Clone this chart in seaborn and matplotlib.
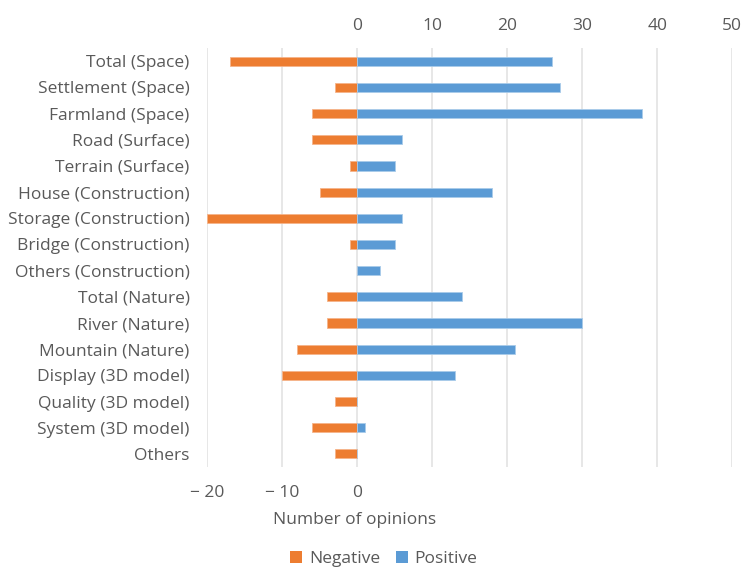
import matplotlib
matplotlib.use("Agg")
import matplotlib.pyplot as plt
import seaborn as sns
import pandas as pd
from matplotlib.patches import Patch

categories = [
    "Total (Space)", "Settlement (Space)", "Farmland (Space)", "Road (Surface)",
    "Terrain (Surface)", "House (Construction)", "Storage (Construction)",
    "Bridge (Construction)", "Others (Construction)", "Total (Nature)",
    "River (Nature)", "Mountain (Nature)", "Display (3D model)",
    "Quality (3D model)", "System (3D model)", "Others",
]
negative = [-17, -3, -6, -6, -1, -5, -20, -1, 0, -4, -4, -8, -10, -3, -6, -3]
positive = [26, 27, 38, 6, 5, 18, 6, 5, 3, 14, 30, 21, 13, 0, 1, 0]
top_ticks = [0, 10, 20, 30, 40, 50]
bottom_ticks = [-20, -10, 0]

ORANGE = "#ED7D31"
BLUE = "#5B9BD5"
TEXT = "#595959"
GRID = "#E0E0E0"
FS = 12.5

sns.set_theme(style="white")
plt.rcParams["font.family"] = ["Open Sans", "DejaVu Sans"]

df = pd.DataFrame({"category": categories, "Negative": negative, "Positive": positive})

fig = plt.figure(figsize=(7.45, 5.73), dpi=100)
ax = fig.add_axes([0.278, 0.185, 0.705, 0.731])

sns.barplot(data=df, x="Negative", y="category", orient="h", color=ORANGE,
            width=0.35, saturation=1, ax=ax, edgecolor="#F5B48A", linewidth=0.6)
sns.barplot(data=df, x="Positive", y="category", orient="h", color=BLUE,
            width=0.35, saturation=1, ax=ax, edgecolor="#A9CBEA", linewidth=0.6)

ax.set_xlim(-20, 50)
ax.set_ylim(len(categories) - 0.5, -0.5)
for v in range(-20, 51, 10):
    ax.axvline(v, color=GRID, linewidth=1.1, zorder=0)

for s in ax.spines.values():
    s.set_visible(False)

ax.set_xticks(bottom_ticks)
ax.set_xticklabels(["\u2212 20", "\u2212 10", "0"])
ax.tick_params(axis="x", length=0, pad=13, labelsize=FS, labelcolor=TEXT)
ax.tick_params(axis="y", length=0, pad=12.5, labelsize=FS, labelcolor=TEXT)
ax.set_xlabel("")
ax.set_ylabel("")

top = ax.secondary_xaxis("top")
top.set_xticks(top_ticks)
top.tick_params(length=0, pad=10, labelsize=FS, labelcolor=TEXT)
for s in top.spines.values():
    s.set_visible(False)

fig.text(355 / 745, 1 - 520 / 573, "Number of opinions", ha="center", va="center",
         fontsize=FS, color=TEXT)

handles = [Patch(facecolor=ORANGE, edgecolor="none", label="Negative"),
           Patch(facecolor=BLUE, edgecolor="none", label="Positive")]
fig.legend(handles=handles, loc="center", bbox_to_anchor=(0.515, 0.024), ncol=2,
           frameon=False, fontsize=FS, handlelength=0.7, handleheight=0.7,
           handletextpad=0.4, columnspacing=0.9, labelcolor=TEXT)

fig.savefig("out.png", dpi=100)
